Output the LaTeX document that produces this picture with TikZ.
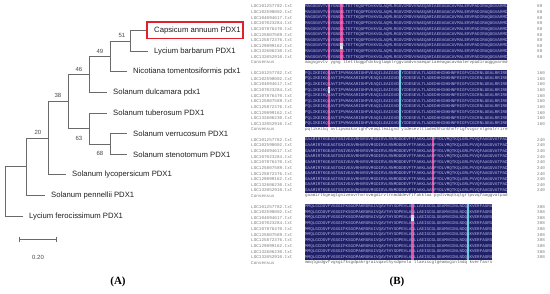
\documentclass[tikz,border=0pt]{standalone}
\usepackage{fontspec}
\setmainfont{Liberation Sans}
\newfontfamily\monof{Liberation Mono}
\newfontfamily\serf{Liberation Serif}
\definecolor{treegray}{HTML}{6A6A6A}
\definecolor{navyc}{RGB}{32,32,104}
\definecolor{pinkc}{RGB}{226,72,160}
\definecolor{cyanc}{RGB}{90,210,225}
\definecolor{seqtxt}{RGB}{180,180,222}
\definecolor{lblgray}{HTML}{7A7A7A}
\definecolor{boxred}{HTML}{E0202A}
\newcommand\mycol[3]{\fill[#1] ({305+#2*2.53},{#3-2.8}) rectangle ({305+(#2+1)*2.53},{#3+53.47});}
\newcommand\mycell[3]{\fill[white!80!gray] ({305+#1*2.53},{#2+5.63*#3-2.8}) rectangle ({305+(#1+1)*2.53},{#2+5.63*#3+2.83});}
\tikzset{
  br/.style={draw=treegray, line width=0.9pt},
  leaf/.style={anchor=west, inner xsep=6pt, inner ysep=1pt, text=black!88, font=\fontsize{7.7}{9}\selectfont},
  bs/.style={inner sep=0pt, text=black!72, font=\fontsize{6}{7}\selectfont},
  seq/.style={anchor=west, inner sep=0pt, text=seqtxt, font=\monof\fontsize{4.2167}{5}\selectfont},
  cons/.style={anchor=west, inner sep=0pt, text=black!65, font=\monof\fontsize{4.2167}{5}\selectfont},
  lbl/.style={anchor=west, inner sep=0pt, text=lblgray, font=\monof\fontsize{4.3}{5}\selectfont},
  panel/.style={inner sep=0pt, font=\serf\bfseries\fontsize{11}{13}\selectfont},
}
\begin{document}
\begin{tikzpicture}[x=1pt,y=-1pt]
\useasboundingbox (0,0) rectangle (550,293);
% ---------------- (A) tree ----------------
\node[leaf] (cap) at (148,30.7) {Capsicum annuum PDX1};
\node[leaf] (lyb) at (148,51.3) {Lycium barbarum PDX1};
\node[leaf] (nic) at (127,71.9) {Nicotiana tomentosiformis pdx1};
\node[leaf] (dul) at (107,92.5) {Solanum dulcamara pdx1};
\node[leaf] (tub) at (107,113.1) {Solanum tuberosum PDX1};
\node[leaf] (ver) at (127,133.7) {Solanum verrucosum PDX1};
\node[leaf] (ste) at (127,154.3) {Solanum stenotomum PDX1};
\node[leaf] (lyc) at (66,174.9) {Solanum lycopersicum PDX1};
\node[leaf] (pen) at (45,195.5) {Solanum pennellii PDX1};
\node[leaf] (fer) at (23,216.1) {Lycium ferocissimum PDX1};
\coordinate (n51) at (130,41.0);
\coordinate (n49) at (110,56.45);
\coordinate (n46) at (89,74.5);
\coordinate (n68) at (110,144.0);
\coordinate (n63) at (89,128.55);
\coordinate (n38) at (68,101.5);
\coordinate (n20) at (48,138.2);
\coordinate (nP) at (26,166.9);
\coordinate (root) at (5,191.5);
\draw[br] (n51) |- (cap.west);
\draw[br] (n51) |- (lyb.west);
\draw[br] (n49) |- (n51);
\draw[br] (n49) |- (nic.west);
\draw[br] (n46) |- (n49);
\draw[br] (n46) |- (dul.west);
\draw[br] (n68) |- (ver.west);
\draw[br] (n68) |- (ste.west);
\draw[br] (n63) |- (tub.west);
\draw[br] (n63) |- (n68);
\draw[br] (n38) |- (n46);
\draw[br] (n38) |- (n63);
\draw[br] (n20) |- (n38);
\draw[br] (n20) |- (lyc.west);
\draw[br] (nP) |- (n20);
\draw[br] (nP) |- (pen.west);
\draw[br] (root) |- (nP);
\draw[br] (root) |- (fer.west);
\draw[boxred, line width=1.3pt] (147,22) rectangle (243,38.5);
\node[bs] (b51) at (122,35.5) {51};
\node[bs] (b49) at (100,51) {49};
\node[bs] (b46) at (79,69) {46};
\node[bs] (b38) at (58,95.5) {38};
\node[bs] (b20) at (38,132.5) {20};
\node[bs] (b63) at (79,138) {63};
\node[bs] (b68) at (100,153) {68};
\coordinate (sbL) at (19,239);
\coordinate (sbR) at (56,239);
\draw[br] (sbL) -- (sbR);
\draw[br] ([yshift=2.5pt]sbL) -- ([yshift=-2.5pt]sbL);
\draw[br] ([yshift=2.5pt]sbR) -- ([yshift=-2.5pt]sbR);
\node[bs] (sbt) at (38,257) {0.20};
\node[panel] (pA) at (118,282) {(A)};
% ---------------- (B) alignment ----------------
\foreach \k/\N/\num in {0/80/80,1/80/160,2/80/240,3/74/308} {
  \pgfmathsetmacro\ya{6.5+66.7*\k}
  \fill[navyc] (305,{\ya-2.8}) rectangle ({305+\N*2.53},{\ya+53.47});
  \foreach \lab [count=\r from 0] in {LOC101257782.txt,LOC102590002.txt,LOC104094617.txt,LOC107023284.txt,LOC107876470.txt,LOC125807589.txt,LOC125872376.txt,LOC129899162.txt,LOC132606230.txt,LOC132052910.txt} {
    \node[lbl] (l\k-\r) at (251,{\ya+5.63*\r}) {\lab};
    \node[lbl] (n\k-\r) at (537,{\ya+5.63*\r}) {\num};
  }
  \node[lbl] (lc\k) at (251,{\ya+56}) {Consensus};
}
% highlighted columns
\mycol{pinkc}{9}{6.5}
\mycol{pinkc}{14}{6.5}
\mycell{14}{6.5}{7}
\mycol{pinkc}{9}{73.2}
\mycol{cyanc}{37}{73.2}
\mycell{9}{73.2}{3}
\mycol{pinkc}{50}{139.9}
\mycol{pinkc}{42}{206.6}
\mycol{cyanc}{64}{206.6}
\mycell{42}{206.6}{2}
% block 1
\foreach \cA/\cB [count=\r from 0] in {A/E,A/E,A/E,A/E,A/E,A/E,A/E,A/Q,A/E,A/E}
  \node[seq] (s0-\r) at (305,{6.5+5.63*\r}) {MAGSGVVTV\cA YGNG\cB LTETTKQGPFDVKVGLAQMLRGGVIMDVVNAEQARIAEEAGACAVMALERVPADIRAQGGVARMD};
\node[cons] (c0) at (305,62.5) {magsgvvtv ygng ltettkqgpfdvkvglaqmlrggvimdvvnaeqariaeeagacavmalervpadiraqggvarmd};
% block 2
\foreach \cA/\cB [count=\r from 0] in {S/I,S/I,S/V,R/I,S/V,S/I,S/V,S/I,S/V,S/I}
  \node[seq] (s1-\r) at (305,{73.2+5.63*\r}) {PQLIKEIKQ\cA AVTIPVMAKARIGHFVEAQILEAIGVD\cB YIDESEVLTLADEDHHINKHNFRIGFVCGCRNLGEALRRIRE};
\node[cons] (c1) at (305,129.2) {pqlikeikq avtipvmakarighfveaqileaigvd yidesevltladedhhinkhnfrigfvcgcrnlgealrrire};
% block 3
\foreach \cA [count=\r from 0] in {N,N,N,N,N,N,N,N,N,N}
  \node[seq] (s2-\r) at (305,{139.9+5.63*\r}) {GAAMIRTKGEAGTGNIVEAVRHVRSVMGDIRVLRNMDDDEVFTFAKKLAA\cA PYDLVMQTKQLGRLPVVQFAAGGVATPAD};
\node[cons] (c2) at (305,195.9) {gaamirtkgeagtgniveavrhvrsvmgdirvlrnmdddevftfakklaa pydlvmqtkqlgrlpvvqfaaggvatpad};
% block 4
\foreach \cA/\cB [count=\r from 0] in {Q/E,Q/K,H/E,Q/K,Q/E,Q/K,Q/E,Q/K,Q/E,Q/K}
  \node[seq] (s3-\r) at (305,{206.6+5.63*\r}) {MMQLGCDGVFVGSGIFKSGDPAKRGRAIVQAVTHYSDPEVLA\cA LLAEISCGLGEAMVGINLNDQ\cB KVERFASRS};
\node[cons] (c3) at (305,262.6) {mmqlgcdgvfvgsgifksgdpakrgraivqavthysdpevla llaeiscglgeamvginlndq kverfasrs};
\node[panel] (pB) at (397,282) {(B)};
\end{tikzpicture}
\end{document}
